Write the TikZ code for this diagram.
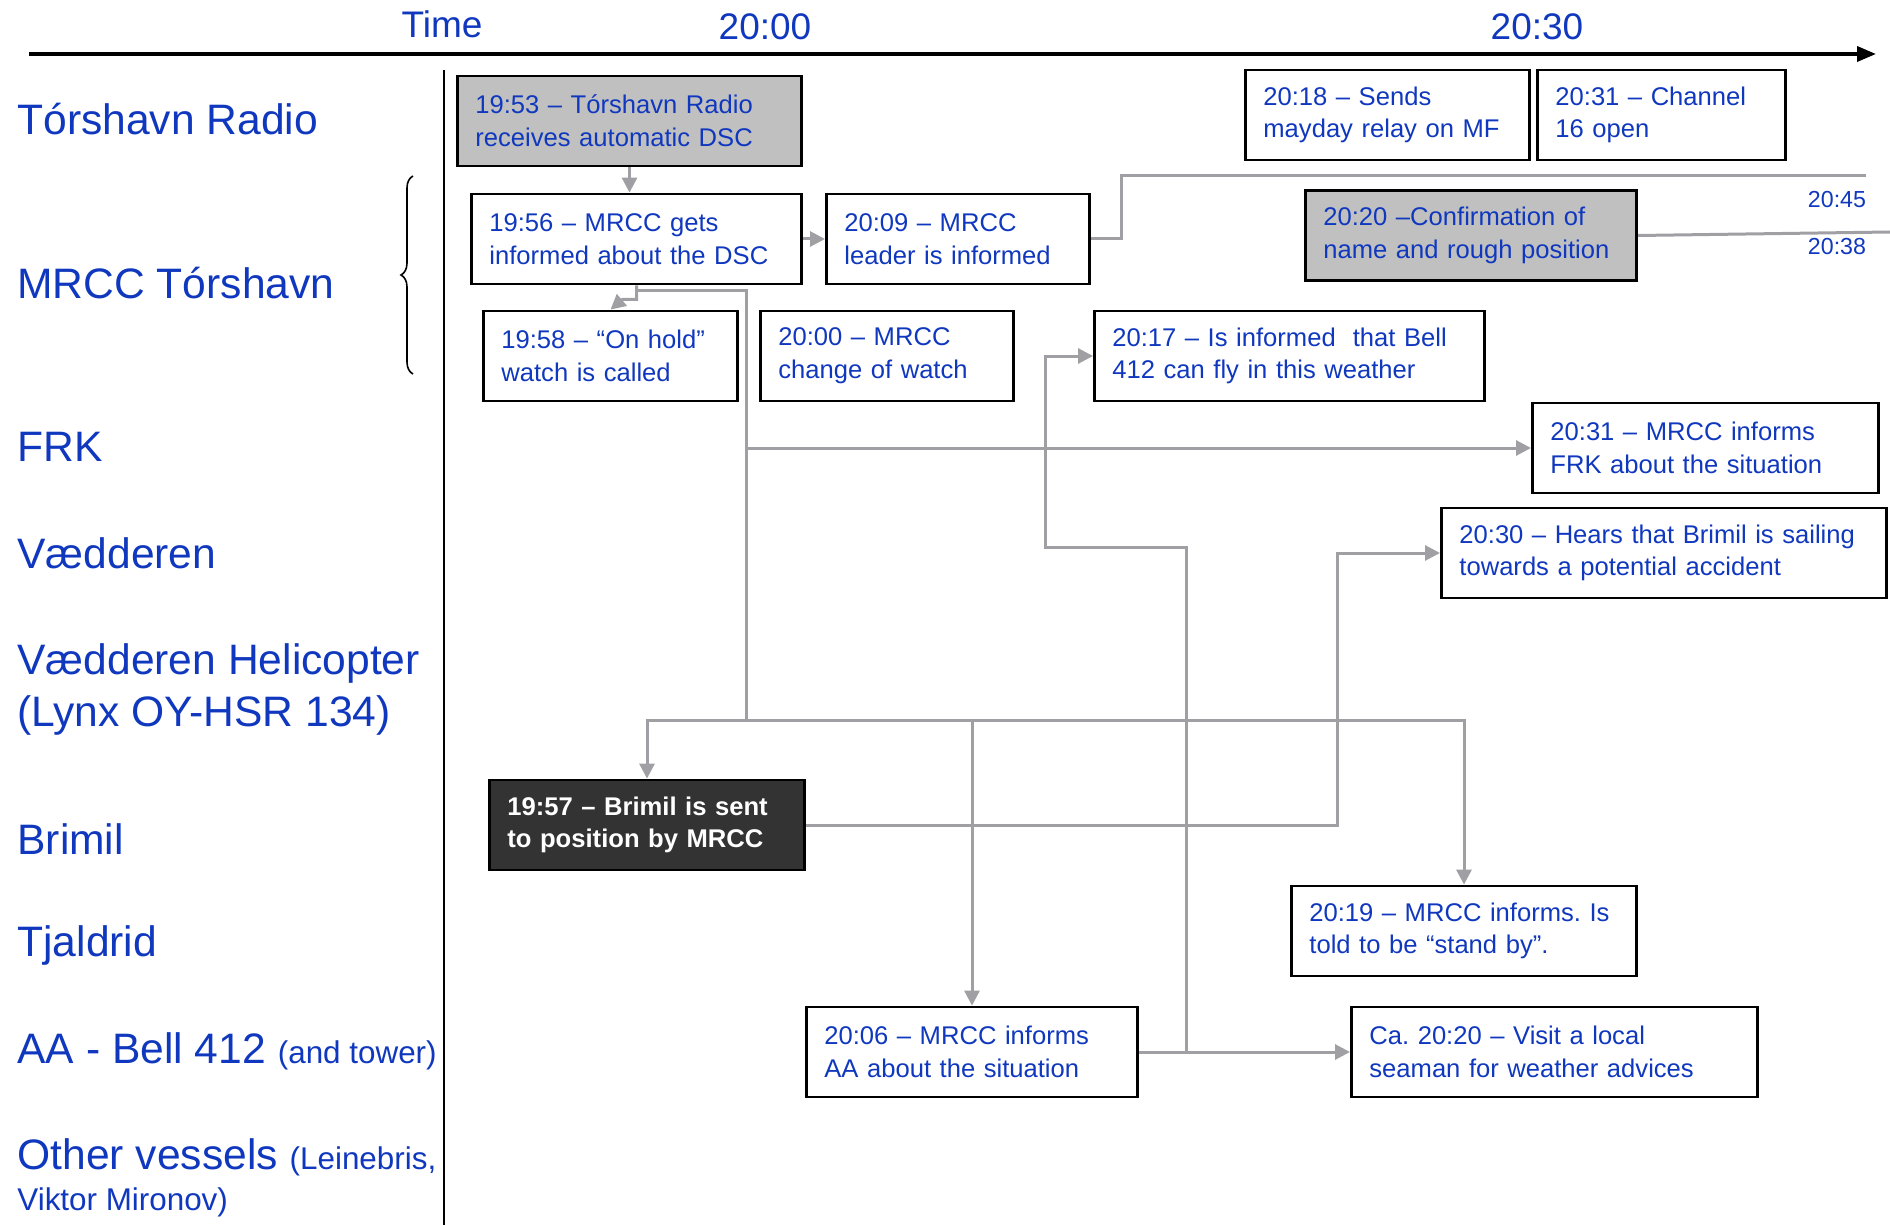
\documentclass[tikz,border=0pt]{standalone}
\usepackage{fontspec}
\setmainfont{Liberation Sans}
\usepackage{tikz}
\usetikzlibrary{arrows.meta, positioning, calc, decorations.pathreplacing}
\definecolor{laneblue}{RGB}{16,56,190}
\definecolor{linkgray}{RGB}{160,160,164}
\definecolor{alertgray}{RGB}{192,192,192}
\definecolor{darkbox}{RGB}{51,51,51}
\frenchspacing

\begin{document}
\begin{tikzpicture}[
    x=0.5pt, y=-0.5pt,
    box/.style={rectangle, draw=black, line width=1.4pt, fill=white, minimum height=45pt, inner xsep=9pt, inner ysep=3pt, align=left, text=laneblue, font=\fontsize{12.8}{16.3}\selectfont},
    alert/.style={box, fill=alertgray},
    sent/.style={box, fill=darkbox, text=white, font=\fontsize{12.8}{16.3}\selectfont\bfseries},
    lane/.style={anchor=west, align=left, text=laneblue, inner sep=0pt, font=\fontsize{21.3}{26}\selectfont},
    timelabel/.style={text=laneblue, font=\fontsize{18.5}{22}\selectfont},
    smalltime/.style={text=laneblue, font=\fontsize{11.6}{14}\selectfont},
    link/.style={draw=linkgray, line width=1.5pt},
    arrow/.style={link, -{Triangle[length=7.5pt, width=7.5pt]}}
]
\useasboundingbox (0,0) rectangle (1890,1225);

% Time axis
\coordinate (t0) at (29,54);
\coordinate (t1) at (1876,54);
\draw[line width=1.8pt, -{Triangle[length=9.5pt, width=7.5pt]}] (t0) -- (t1);
\node[timelabel] (time) at (442,24) {Time};
\node[timelabel] (h2000) at (765,27) {20:00};
\node[timelabel] (h2030) at (1537,27) {20:30};
\coordinate (ax0) at (444,70);
\coordinate (ax1) at (444,1225);
\draw[line width=1.2pt] (ax0) -- (ax1);

% Lanes
\node[lane] (ltr) at (17,119) {Tórshavn Radio};
\node[lane] (lmrcc) at (17,283) {MRCC Tórshavn};
\node[lane] (lfrk) at (17,447) {FRK};
\node[lane] (lvaed) at (17,553) {Vædderen};
\node[lane] (lheli) at (17,689) {Vædderen Helicopter\\(Lynx OY-HSR 134)};
\node[lane] (lbrimil) at (17,839) {Brimil};
\node[lane] (ltjald) at (17,945) {Tjaldrid};
\node[lane] (laa) at (17,1051) {AA - Bell 412 {\fontsize{15.7}{19}\selectfont (and tower)}};
\node[lane] (lother) at (17,1157) {Other vessels {\fontsize{15.7}{19}\selectfont (Leinebris,}};
\node[lane, font=\fontsize{15.7}{19}\selectfont] (lother2) at (17,1202) {Viktor Mironov)};
\coordinate (br0) at (413,374);
\coordinate (br1) at (413,176);
\draw[line width=0.8pt, decorate, decoration={brace, amplitude=6pt}] (br0) -- (br1);

% Tórshavn Radio
\node[alert, text width=154.1pt] (r1953) at (629.5,121) {19:53 – Tórshavn Radio\\receives automatic DSC};
\node[box, text width=124.1pt] (r2018) at (1387.5,115) {20:18 – Sends\\mayday relay on MF};
\node[box, text width=106.1pt, right=2.5pt of r2018] (r2031) {20:31 – Channel\\16 open};

% MRCC Tórshavn
\node[box, text width=147.1pt] (m1956) at (636.5,239) {19:56 – MRCC gets\\informed about the DSC};
\node[box, text width=113.6pt, right=11pt of m1956] (m2009) {20:09 – MRCC\\leader is informed};
\node[box, text width=109.1pt] (m1958) at (610.5,356) {19:58 – “On hold”\\watch is called};
\node[box, text width=108.6pt, right=10pt of m1958] (m2000) {20:00 – MRCC\\change of watch};
\node[box, text width=177.1pt] (m2017) at (1289.5,356) {20:17 – Is informed~ that Bell\\412 can fly in this weather};
\node[alert, text width=147.6pt] (m2020) at (1471,235.5) {20:20 –Confirmation of\\name and rough position};
\node[smalltime] (t2045) at (1837,200) {20:45};
\node[smalltime] (t2038) at (1837,247) {20:38};

% FRK and Vædderen
\node[box, text width=155.1pt] (f2031) at (1705.5,448) {20:31 – MRCC informs\\FRK about the situation};
\node[box, text width=204.6pt] (v2030) at (1664,553) {20:30 – Hears that Brimil is sailing\\towards a potential accident};

% Brimil, Tjaldrid, AA
\node[sent, text width=139.6pt] (b1957) at (647,825) {19:57 – Brimil is sent\\to position by MRCC};
\node[box, text width=154.6pt] (t2019) at (1464,931) {20:19 – MRCC informs. Is\\told to be “stand by”.};
\node[box, text width=147.6pt] (a2006) at (972,1052) {20:06 – MRCC informs\\AA about the situation};
\node[box, text width=185.1pt] (a2020) at (1554.5,1052) {Ca. 20:20 – Visit a local\\seaman for weather advices};

% Connectors
\draw[arrow] (r1953.south) -- (r1953.south |- m1956.north);
\draw[arrow] (m1956) -- (m2009);
\draw[arrow] (m1956.south) -- ++(0,14) -- ++(-14,0) -- (m1958.north);

\coordinate (split) at (746,720);
\draw[link] (m1956.south) ++(0,5) -| (split);
\draw[arrow] (split |- f2031.west) -- (f2031.west);
\draw[arrow] (split) -| (b1957.north);
\draw[arrow] (split) -| (t2019.north);
\draw[arrow] (split -| a2006.north) -- (a2006.north);

\coordinate (out45) at (1866,176);
\draw[link] (m2009.east) -- ++(30,0) |- (out45);
\coordinate (out38) at (1890,232);
\draw[link] (m2020.east) -- (out38);

\coordinate (kneeB) at (1337,553);
\draw[arrow] (b1957.east) -| (kneeB) -- (v2030.west);

\coordinate (kneeA) at (1186,547);
\coordinate (kneeC) at (1045,547);
\draw[arrow] (a2006.east) -| (kneeA) -- (kneeC) |- (m2017.west);
\draw[arrow] (a2006) -- (a2020);

\end{tikzpicture}
\end{document}
